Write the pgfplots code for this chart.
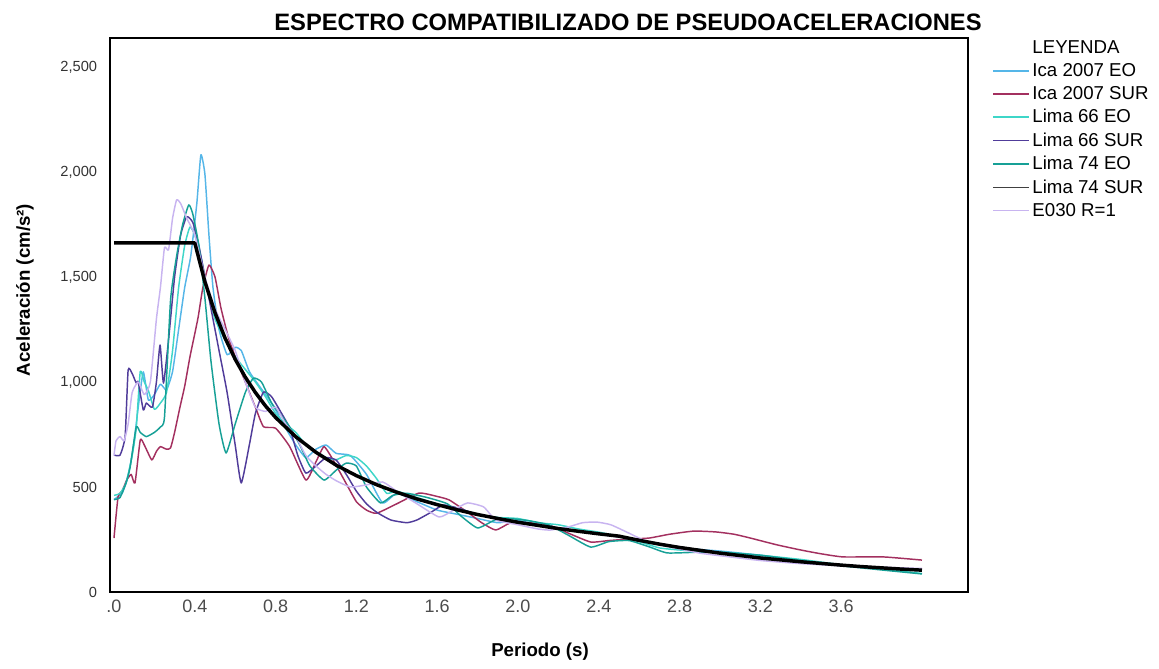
\documentclass[border=0pt]{standalone}
\usepackage{fontspec}
\setmainfont{Liberation Sans}
\usepackage{pgfplots}
\pgfplotsset{compat=1.18}

\definecolor{icaEO}{RGB}{85,182,232}
\definecolor{icaSUR}{RGB}{163,48,95}
\definecolor{limaSSEO}{RGB}{62,214,200}
\definecolor{limaSSSUR}{RGB}{80,60,154}
\definecolor{limaSFEO}{RGB}{22,160,150}
\definecolor{eozz}{RGB}{200,180,240}

\begin{document}
\begin{tikzpicture}[x=0.75pt,y=0.75pt]
\path[use as bounding box] (0,0) rectangle (1159,668);
\begin{axis}[
    at={(82.5pt,57pt)}, anchor=south west,
    scale only axis, width=643.5pt, height=415.5pt,
    xmin=-0.0198, xmax=4.228, ymin=0, ymax=2638,
    axis line style={line width=1.1pt},
    tick style={draw=none},
    xtick={0,0.4,0.8,1.2,1.6,2.0,2.4,2.8,3.2,3.6},
    xticklabels={.0,0.4,0.8,1.2,1.6,2.0,2.4,2.8,3.2,3.6},
    ytick={0,500,1000,1500,2000,2500},
    yticklabels={0,500,{1,000},{1,500},{2,000},{2,500}},
    xticklabel style={font=\fontsize{13.5}{14}\selectfont, text=black!70, anchor=north, inner sep=0pt, yshift=-6pt},
    yticklabel style={font=\fontsize{11}{12}\selectfont, text=black!80, anchor=east, inner sep=0pt, xshift=-9.5pt},
    every axis plot/.append style={line width=1.1pt, line join=round},
    legend cell align=left,
    legend image code/.code={\draw[#1] (0pt,0pt) -- (27pt,0pt);},
    legend style={at={(axis description cs:1.028,1.0)}, anchor=north west,
        draw=none, fill=none, inner sep=0pt,
        font=\fontsize{14}{16}\selectfont, row sep=1.9pt},
]
% Ica 2007 EO
\addplot[icaEO, smooth, tension=0.3, forget plot] coordinates {
(0,440) (0.02,455) (0.04,470) (0.06,520) (0.08,600) (0.10,720) (0.12,880) (0.145,1048) (0.17,914) (0.2,940) (0.23,990) (0.26,962) (0.29,1050) (0.32,1250) (0.35,1450) (0.38,1600) (0.41,1850) (0.43,2081) (0.45,1990) (0.47,1700) (0.49,1450) (0.52,1250) (0.56,1130) (0.6,1165) (0.63,1150) (0.67,1050) (0.72,980) (0.78,900) (0.85,780) (0.9,700) (0.95,640) (1.0,680) (1.05,700) (1.1,660) (1.17,650) (1.25,560) (1.33,424) (1.4,470) (1.5,430) (1.6,390) (1.7,370) (1.8,350) (1.9,330) (2.0,340) (2.1,320) (2.2,300) (2.3,290) (2.4,280) (2.5,265) (2.6,245) (2.7,225) (2.8,210) (3.0,195) (3.2,175) (3.4,150) (3.6,130) (3.8,115) (4.0,100)
};
% Ica 2007 SUR
\addplot[icaSUR, smooth, tension=0.3, forget plot] coordinates {
(0,257) (0.02,452) (0.04,480) (0.063,533) (0.085,560) (0.104,519) (0.13,724) (0.15,700) (0.187,629) (0.21,670) (0.23,692) (0.26,680) (0.28,686) (0.3,760) (0.327,882) (0.35,980) (0.376,1120) (0.40,1230) (0.417,1311) (0.44,1450) (0.47,1557) (0.5,1500) (0.53,1350) (0.57,1200) (0.61,1097) (0.65,1000) (0.7,880) (0.74,787) (0.8,780) (0.87,692) (0.95,533) (1.0,620) (1.04,692) (1.09,620) (1.14,533) (1.2,430) (1.25,390) (1.3,375) (1.4,420) (1.51,471) (1.6,455) (1.66,438) (1.75,380) (1.82,330) (1.89,295) (1.96,328) (2.05,330) (2.15,320) (2.25,280) (2.36,238) (2.45,245) (2.55,252) (2.65,257) (2.75,275) (2.87,290) (2.98,286) (3.07,275) (3.15,257) (3.28,225) (3.4,200) (3.5,182) (3.61,167) (3.81,167) (4.0,152)
};
% Lima 66 EO
\addplot[limaSSEO, smooth, tension=0.3, forget plot] coordinates {
(0,460) (0.03,470) (0.06,520) (0.09,650) (0.11,780) (0.13,1050) (0.15,1000) (0.17,960) (0.2,870) (0.23,900) (0.26,950) (0.29,1150) (0.32,1450) (0.35,1650) (0.376,1738) (0.4,1700) (0.43,1600) (0.46,1450) (0.5,1300) (0.55,1200) (0.6,1120) (0.65,1060) (0.7,1000) (0.75,930) (0.8,850) (0.85,800) (0.9,760) (0.95,700) (1.0,670) (1.05,640) (1.1,630) (1.15,650) (1.2,640) (1.25,600) (1.3,540) (1.35,470) (1.4,480) (1.5,450) (1.6,420) (1.7,400) (1.8,370) (1.9,355) (2.0,350) (2.1,330) (2.2,320) (2.3,300) (2.4,285) (2.5,265) (2.6,240) (2.7,210) (2.8,200) (2.9,195) (3.0,190) (3.2,175) (3.4,155) (3.6,130) (3.8,110) (4.0,88)
};
% Lima 66 SUR
\addplot[limaSSSUR, smooth, tension=0.3, forget plot] coordinates {
(0,652) (0.03,652) (0.055,740) (0.07,1057) (0.09,1040) (0.11,995) (0.12,1000) (0.145,867) (0.16,900) (0.19,880) (0.21,1000) (0.228,1176) (0.245,995) (0.27,1200) (0.3,1500) (0.33,1700) (0.36,1787) (0.39,1760) (0.42,1650) (0.45,1500) (0.48,1350) (0.52,1150) (0.56,950) (0.6,700) (0.63,519) (0.67,700) (0.7,850) (0.74,952) (0.78,930) (0.83,850) (0.87,780) (0.91,650) (0.95,566) (1.0,600) (1.05,640) (1.1,628) (1.15,560) (1.2,480) (1.25,420) (1.3,380) (1.37,343) (1.45,330) (1.5,343) (1.57,380) (1.63,414) (1.7,400) (1.8,370) (1.9,350) (2.0,335) (2.1,320) (2.2,305) (2.3,290) (2.4,275) (2.5,262) (2.6,245) (2.7,230) (2.8,215) (2.9,200) (3.0,188) (3.2,165) (3.4,145) (3.6,128) (3.8,115) (4.0,103)
};
% Lima 74 EO
\addplot[limaSFEO, smooth, tension=0.3, forget plot] coordinates {
(0,440) (0.03,450) (0.06,520) (0.08,595) (0.11,786) (0.13,760) (0.16,740) (0.2,760) (0.23,786) (0.25,833) (0.28,1390) (0.31,1600) (0.34,1750) (0.37,1843) (0.39,1800) (0.42,1650) (0.45,1400) (0.48,1100) (0.52,800) (0.555,662) (0.6,800) (0.65,950) (0.69,1018) (0.73,1000) (0.78,900) (0.82,850) (0.87,786) (0.92,700) (0.97,600) (1.04,533) (1.1,580) (1.15,614) (1.2,600) (1.25,500) (1.32,424) (1.38,460) (1.45,470) (1.55,450) (1.65,420) (1.72,360) (1.8,305) (1.88,340) (1.95,350) (2.05,340) (2.15,320) (2.25,270) (2.36,214) (2.45,240) (2.55,245) (2.65,215) (2.74,186) (2.9,190) (3.0,190) (3.2,175) (3.4,150) (3.6,125) (3.8,105) (4.0,86)
};
% E030 R=1
\addplot[eozz, smooth, tension=0.3, forget plot] coordinates {
(0,650) (0.01,720) (0.03,740) (0.05,720) (0.07,800) (0.09,950) (0.12,1000) (0.15,940) (0.18,1000) (0.21,1300) (0.23,1452) (0.25,1640) (0.27,1629) (0.29,1780) (0.31,1867) (0.33,1850) (0.36,1780) (0.4,1700) (0.45,1500) (0.5,1350) (0.55,1250) (0.6,1150) (0.65,1000) (0.7,880) (0.75,860) (0.8,880) (0.85,800) (0.9,740) (0.95,650) (1.0,600) (1.05,560) (1.1,530) (1.17,500) (1.25,510) (1.33,524) (1.4,480) (1.5,420) (1.61,357) (1.68,390) (1.75,424) (1.83,405) (1.89,343) (2.0,320) (2.1,300) (2.16,295) (2.25,310) (2.32,330) (2.39,333) (2.46,320) (2.55,280) (2.62,248) (2.7,225) (2.8,205) (2.9,185) (3.05,167) (3.2,150) (3.4,135) (3.6,125) (3.8,118) (4.0,112)
};
% Lima 74 SUR (thick black)
\addplot[black, line width=2.6pt, forget plot] coordinates {
(0,1662) (0.4,1662) (0.45,1477) (0.5,1330) (0.55,1209) (0.6,1108) (0.65,1023) (0.7,950) (0.75,886) (0.8,831) (0.9,739) (1.0,665) (1.1,604) (1.2,554) (1.3,511) (1.4,475) (1.5,443) (1.6,416) (1.7,391) (1.8,369) (1.9,350) (2.0,332) (2.1,317) (2.2,302) (2.3,289) (2.4,277) (2.5,266) (2.6,246) (2.7,228) (2.8,212) (3.0,185) (3.2,162) (3.4,144) (3.5,136) (3.6,128) (3.7,121) (3.8,115) (3.9,109) (4.0,104)
};
\addlegendimage{empty legend}\addlegendentry{LEYENDA}
\addlegendimage{icaEO, line width=1.1pt}\addlegendentry{Ica 2007 EO}
\addlegendimage{icaSUR, line width=1.1pt}\addlegendentry{Ica 2007 SUR}
\addlegendimage{limaSSEO, line width=1.1pt}\addlegendentry{Lima 66 EO}
\addlegendimage{limaSSSUR, line width=1.1pt}\addlegendentry{Lima 66 SUR}
\addlegendimage{limaSFEO, line width=1.1pt}\addlegendentry{Lima 74 EO}
\addlegendimage{black!75, line width=1.1pt}\addlegendentry{Lima 74 SUR}
\addlegendimage{eozz, line width=1.1pt}\addlegendentry{E030 R=1}
\end{axis}
\node[font=\bfseries\fontsize{17.8}{18}\selectfont] at (628,646) {ESPECTRO COMPATIBILIZADO DE PSEUDOACELERACIONES};
\node[font=\bfseries\fontsize{14}{15}\selectfont, rotate=90] at (25,378) {Aceleración (cm/s²)};
\node[font=\bfseries\fontsize{14}{15}\selectfont] at (540,16) {Periodo (s)};
\end{tikzpicture}
\end{document}
